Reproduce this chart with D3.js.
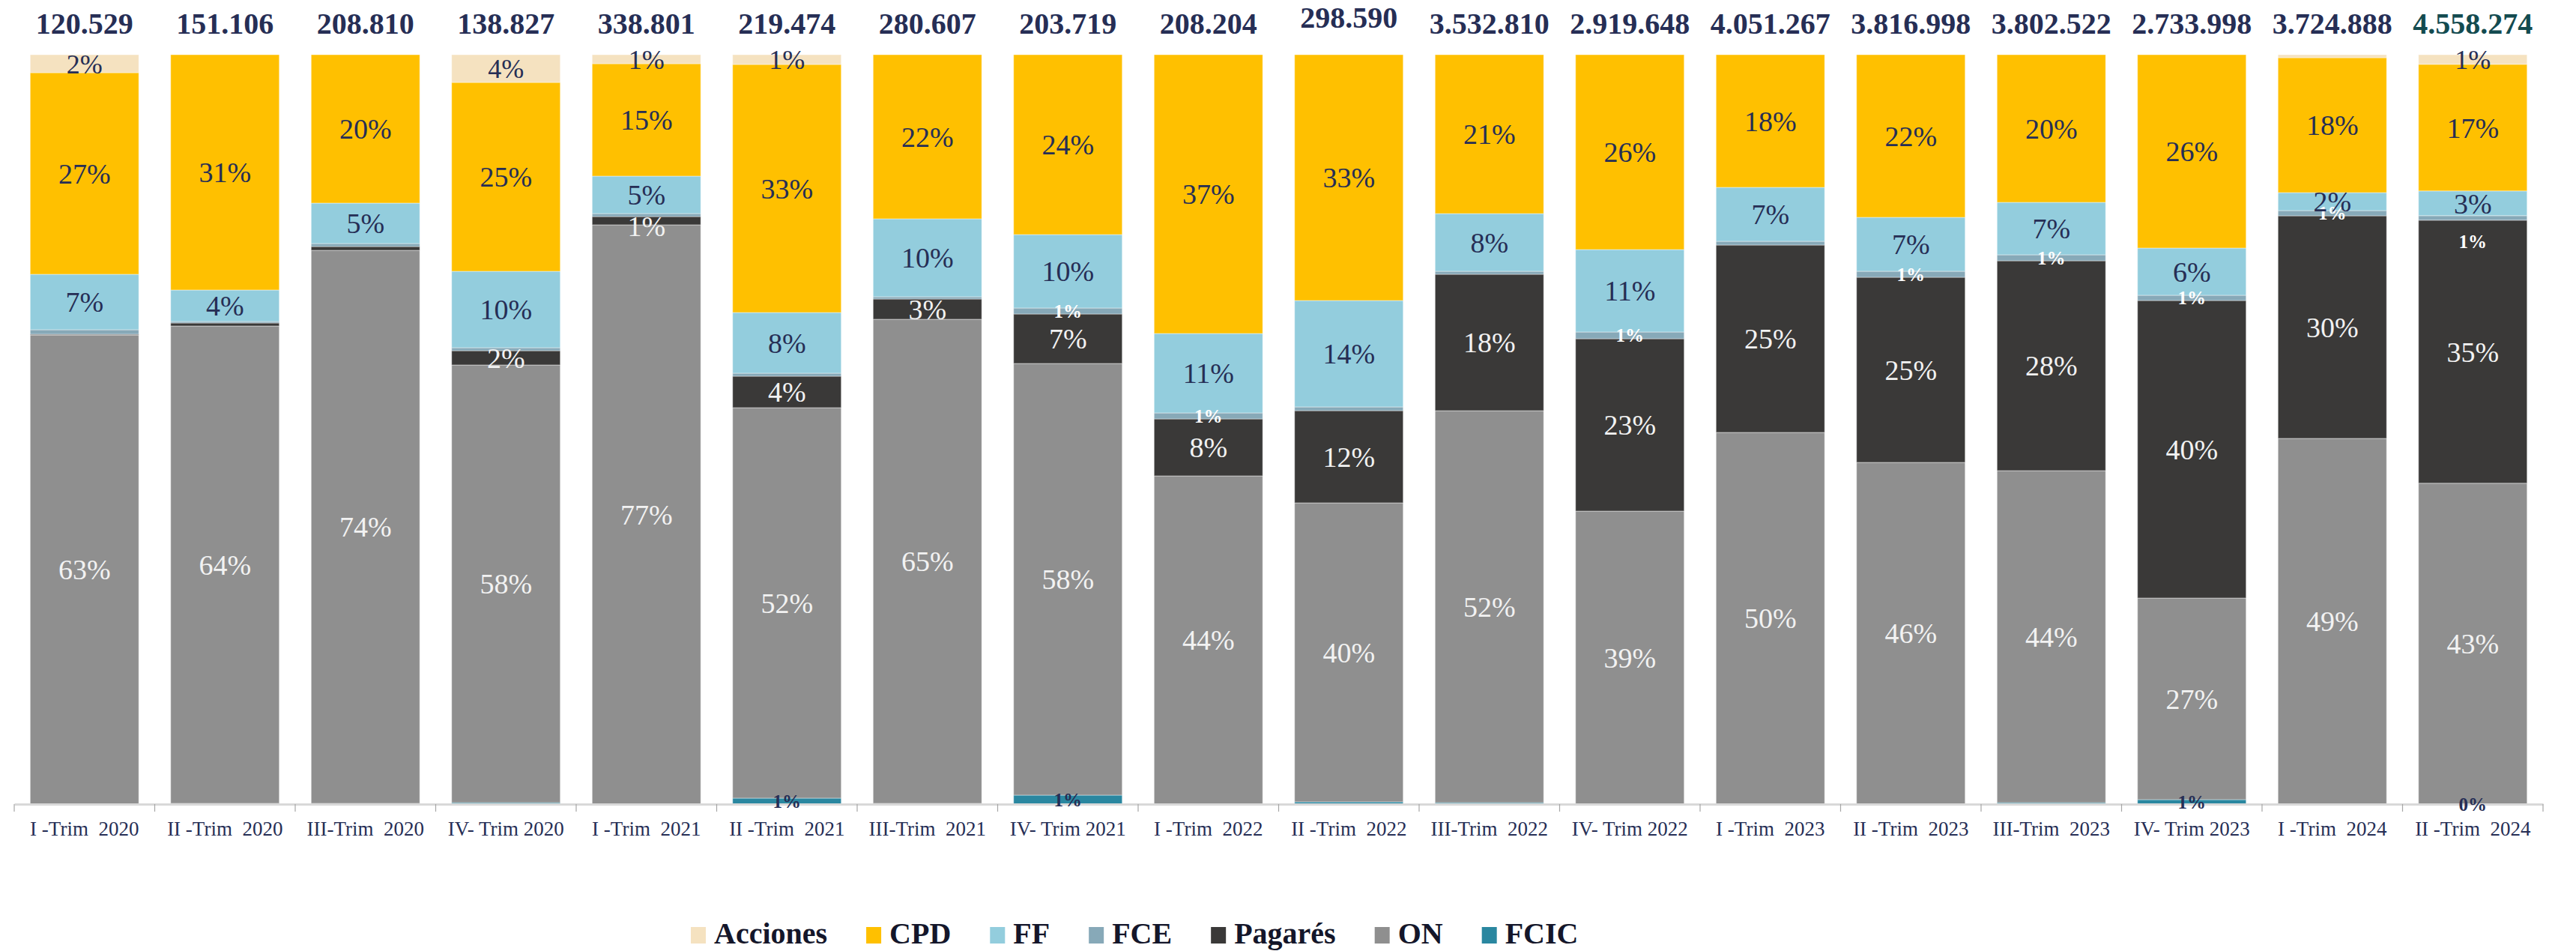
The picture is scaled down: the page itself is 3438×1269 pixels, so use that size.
<!DOCTYPE html>
<html><head><meta charset="utf-8">
<script src="https://cdn.jsdelivr.net/npm/d3@7"></script>
<style>
html,body{margin:0;padding:0;background:#fff;}
svg{display:block;}
</style></head>
<body>
<svg id="chart" width="3438" height="1269"></svg>
<script>
// ---------- DATA ----------
const categories = ["I -Trim  2020","II -Trim  2020","III-Trim  2020","IV- Trim 2020",
  "I -Trim  2021","II -Trim  2021","III-Trim  2021","IV- Trim 2021",
  "I -Trim  2022","II -Trim  2022","III-Trim  2022","IV- Trim 2022",
  "I -Trim  2023","II -Trim  2023","III-Trim  2023","IV- Trim 2023",
  "I -Trim  2024","II -Trim  2024"];
const totals = [120529,151106,208810,138827,338801,219474,280607,203719,208204,298590,
  3532810,2919648,4051267,3816998,3802522,2733998,3724888,4558274];

// shares (%) per series
const acciones = [2.4,0,0,3.7,1.2,1.3,0,0,0,0,0,0,0,0,0,0,0.4,1.3];
const cpd      = [26.9,31.4,19.8,25.2,15.0,33.1,21.9,24.0,37.2,32.8,21.2,26.0,17.7,21.7,19.7,25.8,18.0,16.9];
const ff       = [7.4,4.2,5.4,10.2,5.0,8.1,10.4,9.8,10.6,14.2,7.7,11.0,7.2,7.2,7.0,6.3,2.4,3.3];
const fce      = [0.6,0.2,0.4,0.4,0.4,0.4,0.3,0.8,0.8,0.5,0.4,0.9,0.5,0.8,0.8,0.7,0.7,0.6];
const pagares  = [0.1,0.4,0.5,1.9,1.1,4.2,2.7,6.6,7.6,12.3,18.2,23.0,25.0,24.7,28.0,39.7,29.7,35.1];
const on       = [62.6,63.7,73.8,58.4,77.3,52.1,64.6,57.6,43.8,39.9,52.3,39.1,49.6,45.6,44.3,26.9,48.8,42.8];
const fcic     = [0,0.1,0.1,0.2,0,0.8,0.1,1.2,0,0.3,0.2,0,0,0,0.2,0.6,0,0.02];

// which data labels are shown (1 = shown)
const showAcciones = [1,0,0,1,1,1,0,0,0,0,0,0,0,0,0,0,0,1];
const showCpd      = [1,1,1,1,1,1,1,1,1,1,1,1,1,1,1,1,1,1];
const showFf       = [1,1,1,1,1,1,1,1,1,1,1,1,1,1,1,1,1,1];
const showFce      = [0,0,0,0,0,0,0,1,1,0,0,1,0,1,1,1,1,1];
const showPagares  = [0,0,0,1,1,1,1,1,1,1,1,1,1,1,1,1,1,1];
const showOn       = [1,1,1,1,1,1,1,1,1,1,1,1,1,1,1,1,1,1];
const showFcic     = [0,0,0,0,0,1,0,1,0,0,0,0,0,0,0,1,0,1];

const legendOrder = ["Acciones","CPD","FF","FCE","Pagarés","ON","FCIC"];

// ---------- SETUP ----------
const series = [
  {key:"FCIC",     vals:fcic,     show:showFcic,     color:"#2a87a0", lab:"#262e55", size:25, weight:"bold"},
  {key:"ON",       vals:on,       show:showOn,       color:"#8f8f8f", lab:"#f2f2f2", size:38, weight:"normal"},
  {key:"Pagarés",  vals:pagares,  show:showPagares,  color:"#3a3938", lab:"#f2f2f2", size:38, weight:"normal"},
  {key:"FCE",      vals:fce,      show:showFce,      color:"#87a9b8", lab:"#ffffff", size:25, weight:"bold"},
  {key:"FF",       vals:ff,       show:showFf,       color:"#93cddd", lab:"#262e55", size:38, weight:"normal"},
  {key:"CPD",      vals:cpd,      show:showCpd,      color:"#ffc000", lab:"#262e55", size:38, weight:"normal"},
  {key:"Acciones", vals:acciones, show:showAcciones, color:"#f5e2c0", lab:"#262e55", size:36, weight:"normal"}
];
const byKey = Object.fromEntries(series.map(s=>[s.key,s]));
const keys = series.map(s=>s.key);

const rows = categories.map((c,i)=>{
  const r = {cat:c, i:i};
  series.forEach(s=>{ r[s.key] = s.vals[i]; });
  return r;
});

const FONT = "'Liberation Serif','DejaVu Serif',serif";
const NAVY = "#262e55";
const svg = d3.select("#chart");

const x = d3.scaleBand().domain(categories).range([19,3394]).paddingInner(0.227).paddingOuter(0.1135);
const y = d3.scaleLinear().domain([0,100]).range([1073,73]).clamp(true);

const stacked = d3.stack().keys(keys)(rows);

// bars
const gBars = svg.append("g");
stacked.forEach(layer=>{
  const s = byKey[layer.key];
  gBars.selectAll(null).data(layer).join("rect")
    .attr("x", d=>x(d.data.cat))
    .attr("width", x.bandwidth())
    .attr("y", d=>y(d[1]))
    .attr("height", d=>Math.max(0, y(d[0]) - y(d[1])))
    .attr("fill", s.color)
    .attr("stroke","#ffffff").attr("stroke-opacity",0.45).attr("stroke-width",1);
});

// axis
const axis = d3.axisBottom(x).tickSizeInner(0).tickSizeOuter(0).tickPadding(23);
const gAx = svg.append("g").attr("transform","translate(0,1073)").call(axis);
gAx.select(".domain").attr("stroke","#d9d9d9").attr("stroke-width",3);
gAx.selectAll(".tick text")
  .attr("font-family",FONT).attr("font-size",27).attr("fill",NAVY)
  .style("white-space","pre");
// boundary tick marks
const step = x.step();
const bounds = categories.map(c=>x(c) - step*x.paddingInner()/2);
bounds.push(x(categories[categories.length-1]) + x.bandwidth() + step*x.paddingInner()/2);
gAx.selectAll("line.bt").data(bounds).join("line").attr("class","bt")
  .attr("x1",d=>d).attr("x2",d=>d).attr("y1",0).attr("y2",10)
  .attr("stroke","#a6a6a6").attr("stroke-width",1.2);

// data labels
const nudge = {"FCE|17": 31, "Pagarés|4": 7};
const gLab = svg.append("g");
stacked.forEach(layer=>{
  const s = byKey[layer.key];
  const data = layer.filter(d=>s.show[d.data.i]);
  gLab.selectAll(null).data(data).join("text")
    .attr("x", d=>x(d.data.cat) + x.bandwidth()/2)
    .attr("y", d=>(y(d[0])+y(d[1]))/2 + (nudge[s.key+"|"+d.data.i]||0))
    .attr("dy","0.35em")
    .attr("text-anchor","middle")
    .attr("font-family",FONT).attr("font-size",s.size).attr("font-weight",s.weight)
    .attr("fill",s.lab)
    .text(d=>Math.round(d.data[s.key]) + "%");
});

// totals
const loc = d3.formatLocale({decimal:",", thousands:".", grouping:[3], currency:["$",""]});
const fmt = loc.format(",d");
const totalNudge = {9:-8};
svg.append("g").selectAll("text").data(totals).join("text")
  .attr("x",(d,i)=>x(categories[i]) + x.bandwidth()/2)
  .attr("y",(d,i)=>45 + (totalNudge[i]||0))
  .attr("text-anchor","middle")
  .attr("font-family",FONT).attr("font-size",40).attr("font-weight","bold")
  .attr("fill",(d,i)=> i===totals.length-1 ? "#134b50" : NAVY)
  .text(d=>fmt(d));

// legend
const gLeg = svg.append("g");
let lx = 922;
legendOrder.forEach(k=>{
  const s = byKey[k];
  gLeg.append("rect").attr("x",lx).attr("y",1237).attr("width",20).attr("height",22).attr("fill",s.color);
  const t = gLeg.append("text").attr("x",lx+31).attr("y",1259)
    .attr("font-family",FONT).attr("font-size",40).attr("font-weight","bold")
    .attr("fill","#14162a").text(k);
  lx += 31 + t.node().getComputedTextLength() + 52;
});
</script>
</body></html>
